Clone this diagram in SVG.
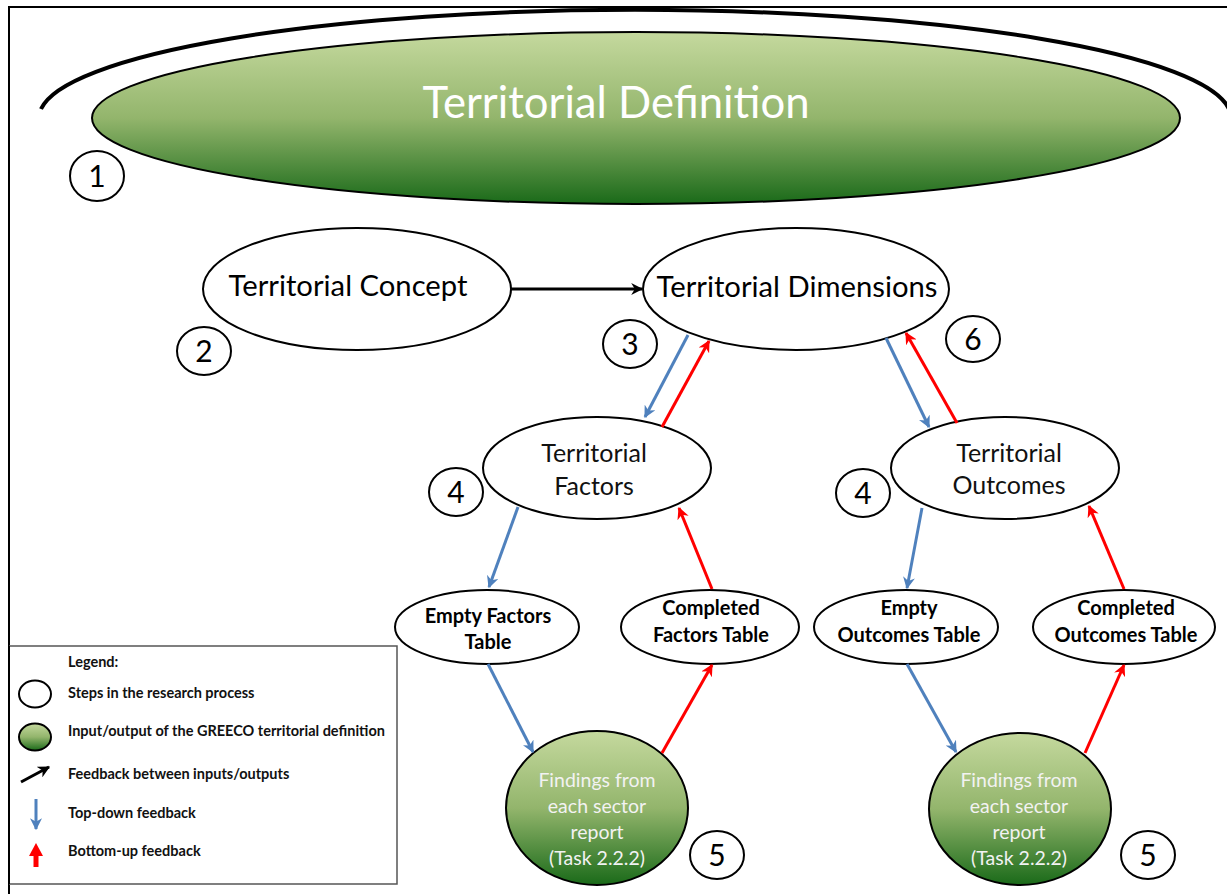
<svg xmlns="http://www.w3.org/2000/svg" width="1227" height="894" viewBox="0 0 1227 894">
<defs>
<linearGradient id="g" x1="0" y1="0" x2="0" y2="1">
<stop offset="0" stop-color="#c5d99e"/>
<stop offset="0.5" stop-color="#93b56c"/>
<stop offset="1" stop-color="#1a6a19"/>
</linearGradient>
<marker id="ab" viewBox="0 0 10 10" refX="9" refY="5" markerWidth="4" markerHeight="4" orient="auto" markerUnits="strokeWidth">
<path d="M0,0 L10,5 L0,10 L3,5 z" fill="#4f81bd"/>
</marker>
<marker id="ar" viewBox="0 0 10 10" refX="9" refY="5" markerWidth="4" markerHeight="4" orient="auto" markerUnits="strokeWidth">
<path d="M0,0 L10,5 L0,10 L3,5 z" fill="#ff0000"/>
</marker>
<marker id="ak" viewBox="0 0 10 10" refX="9" refY="5" markerWidth="4" markerHeight="4" orient="auto" markerUnits="strokeWidth">
<path d="M0,0 L10,5 L0,10 L3,5 z" fill="#000"/>
</marker>
</defs>
<style>
text{font-family:Lato,"Liberation Sans",sans-serif;text-anchor:middle}
.node{stroke:#000;stroke-width:2}
.w{fill:#fff}
.gr{fill:url(#g)}
.num{fill:#fff;stroke:#000;stroke-width:2}
.numt{font-size:30px;fill:#000}
.blue{stroke:#4f81bd;stroke-width:3;fill:none;marker-end:url(#ab)}
.red{stroke:#ff0000;stroke-width:3;fill:none;marker-end:url(#ar)}
.blk{stroke:#000;stroke-width:3;fill:none;marker-end:url(#ak)}
.big{font-size:28px;fill:#000}
.mid{font-size:25px;fill:#111}
.tbl{font-size:20px;font-weight:bold;fill:#000}
.fnd{font-size:19.5px;fill:#f2f2f2}
.leg{font-size:14.5px;font-weight:bold;fill:#111;text-anchor:start}
</style>
<rect width="1227" height="894" fill="#fff"/>
<path d="M9,894 L9,7 L1227,7" fill="none" stroke="#000" stroke-width="2"/>

<g id="n1">
<path d="M41,109 A596,108 0 0 1 1229,109" fill="none" stroke="#000" stroke-width="4"/>
<ellipse class="node gr" cx="636" cy="118" rx="544" ry="86"/>
<text x="616" y="118" font-size="44" fill="#fff" textLength="387" lengthAdjust="spacingAndGlyphs">Territorial Definition</text>
</g>
<g id="c1"><ellipse class="num" cx="97" cy="176" rx="27" ry="25"/><text class="numt" x="97" y="187">1</text></g>

<g id="n2"><ellipse class="node w" cx="357" cy="289" rx="154" ry="61"/>
<text class="big" x="348" y="296" textLength="239" lengthAdjust="spacingAndGlyphs">Territorial Concept</text></g>
<g id="c2"><ellipse class="num" cx="204" cy="351" rx="27" ry="24"/><text class="numt" x="204" y="362">2</text></g>

<g id="n3"><ellipse class="node w" cx="796" cy="289" rx="153" ry="61"/>
<text class="big" x="797" y="297" textLength="281" lengthAdjust="spacingAndGlyphs">Territorial Dimensions</text></g>
<g id="c3"><ellipse class="num" cx="630" cy="344" rx="27" ry="24"/><text class="numt" x="630" y="355">3</text></g>
<g id="c6"><ellipse class="num" cx="973" cy="339" rx="27" ry="23"/><text class="numt" x="973" y="350">6</text></g>

<g id="n4a"><ellipse class="node w" cx="597" cy="468" rx="114" ry="51"/>
<text class="mid" x="594" y="462">Territorial</text><text class="mid" x="594" y="495">Factors</text></g>
<g id="c4a"><ellipse class="num" cx="456" cy="492" rx="27" ry="24"/><text class="numt" x="456" y="503">4</text></g>

<g id="n4b"><ellipse class="node w" cx="1005" cy="468" rx="114" ry="51"/>
<text class="mid" x="1009" y="462">Territorial</text><text class="mid" x="1009" y="494">Outcomes</text></g>
<g id="c4b"><ellipse class="num" cx="863" cy="493" rx="27" ry="24"/><text class="numt" x="863" y="504">4</text></g>

<g id="t1"><ellipse class="node w" cx="487" cy="627" rx="92" ry="37"/>
<text class="tbl" x="488" y="623">Empty Factors</text><text class="tbl" x="488" y="649">Table</text></g>
<g id="t2"><ellipse class="node w" cx="710" cy="627" rx="89" ry="37"/>
<text class="tbl" x="711" y="615">Completed</text><text class="tbl" x="711" y="642">Factors Table</text></g>
<g id="t3"><ellipse class="node w" cx="906" cy="627" rx="92" ry="37"/>
<text class="tbl" x="909" y="615">Empty</text><text class="tbl" x="909" y="642">Outcomes Table</text></g>
<g id="t4"><ellipse class="node w" cx="1124" cy="627" rx="91" ry="37"/>
<text class="tbl" x="1126" y="615">Completed</text><text class="tbl" x="1126" y="642">Outcomes Table</text></g>

<g id="f1"><ellipse class="node gr" cx="597" cy="808" rx="91" ry="77"/>
<text class="fnd" x="597" y="787">Findings from</text><text class="fnd" x="597" y="813">each sector</text><text class="fnd" x="597" y="839">report</text><text class="fnd" x="597" y="865">(Task 2.2.2)</text></g>
<g id="c5a"><ellipse class="num" cx="717" cy="855" rx="27" ry="24"/><text class="numt" x="717" y="866">5</text></g>
<g id="f2"><ellipse class="node gr" cx="1020" cy="809" rx="91" ry="76"/>
<text class="fnd" x="1019" y="787">Findings from</text><text class="fnd" x="1019" y="813">each sector</text><text class="fnd" x="1019" y="839">report</text><text class="fnd" x="1019" y="865">(Task 2.2.2)</text></g>
<g id="c5b"><ellipse class="num" cx="1148" cy="855" rx="27" ry="24"/><text class="numt" x="1148" y="866">5</text></g>

<g id="connectors">
<line class="blk" x1="511" y1="289" x2="642" y2="289"/>
<line class="blue" x1="688" y1="335" x2="645" y2="417"/>
<line class="red" x1="662" y1="427" x2="709" y2="341"/>
<line class="blue" x1="886" y1="338" x2="929" y2="427"/>
<line class="red" x1="957" y1="423" x2="906" y2="333"/>
<line class="blue" x1="518" y1="507" x2="489" y2="587"/>
<line class="red" x1="712" y1="589" x2="679" y2="508"/>
<line class="blue" x1="922" y1="508" x2="907" y2="588"/>
<line class="red" x1="1124" y1="589" x2="1089" y2="506"/>
<line class="blue" x1="488" y1="664" x2="533" y2="752"/>
<line class="red" x1="662" y1="753" x2="712" y2="665"/>
<line class="blue" x1="907" y1="664" x2="956" y2="752"/>
<line class="red" x1="1085" y1="753" x2="1124" y2="665"/>
</g>

<g id="legend">
<path d="M9,646 L397,646 L397,884 L9,884" fill="#fff" stroke="#555" stroke-width="1.5"/>
<path d="M9,646 L9,884" stroke="#000" stroke-width="2"/>
<text class="leg" x="68" y="667">Legend:</text>
<ellipse cx="35" cy="694" rx="16" ry="13.5" fill="#fff" stroke="#000" stroke-width="2"/>
<text class="leg" x="68" y="698">Steps in the research process</text>
<ellipse cx="35" cy="737" rx="16" ry="13.5" fill="url(#g)" stroke="#000" stroke-width="2"/>
<text class="leg" x="68" y="736">Input/output of the GREECO territorial definition</text>
<line x1="21" y1="782" x2="49" y2="767" stroke="#000" stroke-width="3" marker-end="url(#ak)"/>
<text class="leg" x="68" y="779">Feedback between inputs/outputs</text>
<line x1="36" y1="799" x2="36" y2="829" stroke="#4f81bd" stroke-width="3" marker-end="url(#ab)"/>
<text class="leg" x="68" y="818">Top-down feedback</text>
<path d="M36,867 L36,854" stroke="#ff0000" stroke-width="5"/>
<path d="M29,856 L36,843 L43,856 z" fill="#ff0000"/>
<text class="leg" x="68" y="856">Bottom-up feedback</text>
</g>
</svg>
